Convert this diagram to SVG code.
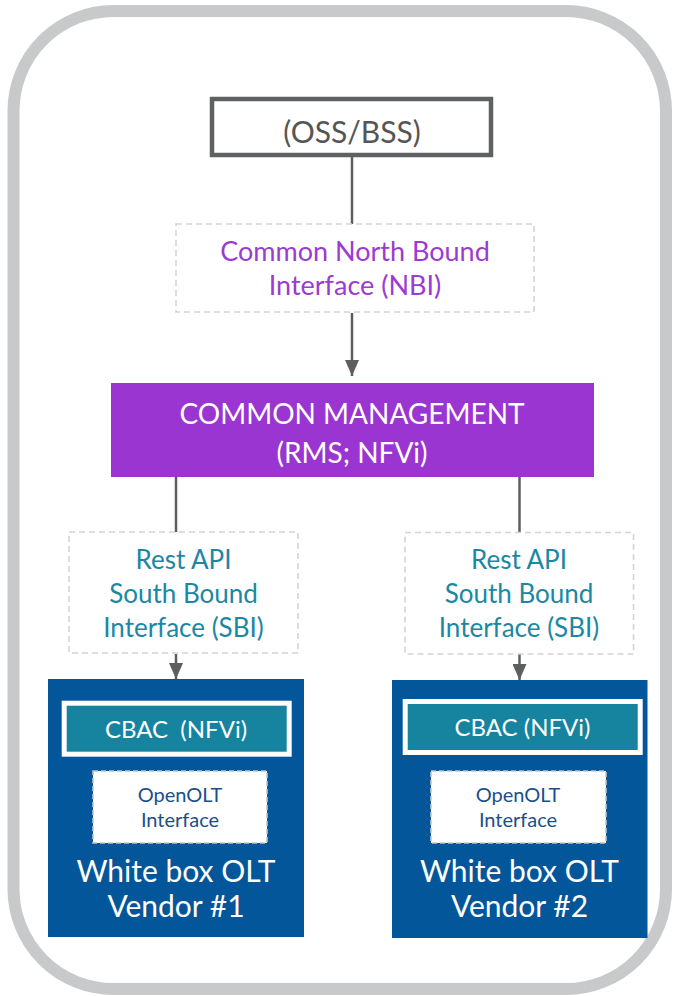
<svg xmlns="http://www.w3.org/2000/svg" width="679" height="996" viewBox="0 0 679 996">
<defs>
<style>
text{font-family:Lato,"Open Sans","Liberation Sans",sans-serif;text-anchor:middle;white-space:pre}
.dash{fill:#fff;stroke:#d4d4d4;stroke-width:1.6;stroke-dasharray:6 4}
.conn{stroke:#5d5e60;stroke-width:2.5;fill:none}
.purple{fill:#9b3bd3;font-size:27px}
.teal{fill:#1a88a4;font-size:26px}
.white{fill:#fff}
.vendor{fill:#03569a}
.cbac{fill:#16839f;stroke:#fff;stroke-width:5}
.olt{fill:#fff;stroke:#c4c4c4;stroke-width:1.6;stroke-dasharray:5 3}
.oltt{fill:#1a4f8c;font-size:20px}
</style>
<marker id="arr" viewBox="0 0 16 14" refX="16" refY="7" markerWidth="16" markerHeight="14" markerUnits="userSpaceOnUse" orient="auto">
<path d="M0,0 L16,7 L0,14 Z" fill="#5d5e60"/>
</marker>
</defs>
<rect id="frame" x="13.5" y="11" width="652.5" height="978" rx="100" ry="100" fill="#fff" stroke="#c8c9ca" stroke-width="12"/>
<g id="connectors">
<line class="conn" x1="352" y1="157" x2="352" y2="224"/>
<line class="conn" x1="352" y1="313" x2="352" y2="376" marker-end="url(#arr)"/>
<line class="conn" x1="176" y1="477" x2="176" y2="532"/>
<line class="conn" x1="519.5" y1="477" x2="519.5" y2="532"/>
<line class="conn" x1="176" y1="654" x2="176" y2="679" marker-end="url(#arr)"/>
<line class="conn" x1="519.5" y1="654" x2="519.5" y2="680" marker-end="url(#arr)"/>
</g>
<g id="oss">
<rect x="212" y="99" width="279" height="56" fill="#fff" stroke="#5f6062" stroke-width="4.5"/>
<text x="352" y="143" font-size="30" fill="#555">(OSS/BSS)</text>
</g>
<g id="nbi">
<rect class="dash" x="176" y="224" width="358" height="88"/>
<text class="purple" x="355" y="261">Common North Bound</text>
<text class="purple" x="355" y="295">Interface (NBI)</text>
</g>
<g id="mgmt">
<rect x="111" y="383" width="483" height="94" fill="#9a35d1"/>
<text class="white" x="352" y="424" font-size="28">COMMON MANAGEMENT</text>
<text class="white" x="352" y="463" font-size="28">(RMS; NFVi)</text>
</g>
<g id="sbi1">
<rect class="dash" x="69" y="532" width="229" height="121"/>
<text class="teal" x="183.5" y="569">Rest API</text>
<text class="teal" x="183.5" y="603">South Bound</text>
<text class="teal" x="183.5" y="637">Interface (SBI)</text>
</g>
<g id="sbi2">
<rect class="dash" x="405" y="532.5" width="228.5" height="121.5"/>
<text class="teal" x="519" y="569">Rest API</text>
<text class="teal" x="519" y="603">South Bound</text>
<text class="teal" x="519" y="637">Interface (SBI)</text>
</g>
<g id="vendor1">
<rect class="vendor" x="48" y="679" width="256" height="258"/>
<rect class="cbac" x="64.2" y="703.2" width="225" height="51"/>
<text class="white" x="176" y="738" font-size="24">CBAC  (NFVi)</text>
<rect class="olt" x="93" y="771" width="174" height="72"/>
<text class="oltt" x="180" y="802">OpenOLT</text>
<text class="oltt" x="180" y="827">Interface</text>
<text class="white" x="176" y="882" font-size="30">White box OLT</text>
<text class="white" x="176" y="917" font-size="30">Vendor #1</text>
</g>
<g id="vendor2">
<rect class="vendor" x="392" y="680" width="255.5" height="258"/>
<rect class="cbac" x="405.2" y="701.5" width="235" height="51"/>
<text class="white" x="522.5" y="736" font-size="24">CBAC (NFVi)</text>
<rect class="olt" x="431" y="771" width="175" height="72"/>
<text class="oltt" x="518" y="802">OpenOLT</text>
<text class="oltt" x="518" y="827">Interface</text>
<text class="white" x="519.5" y="882" font-size="30">White box OLT</text>
<text class="white" x="519.5" y="917" font-size="30">Vendor #2</text>
</g>
</svg>
